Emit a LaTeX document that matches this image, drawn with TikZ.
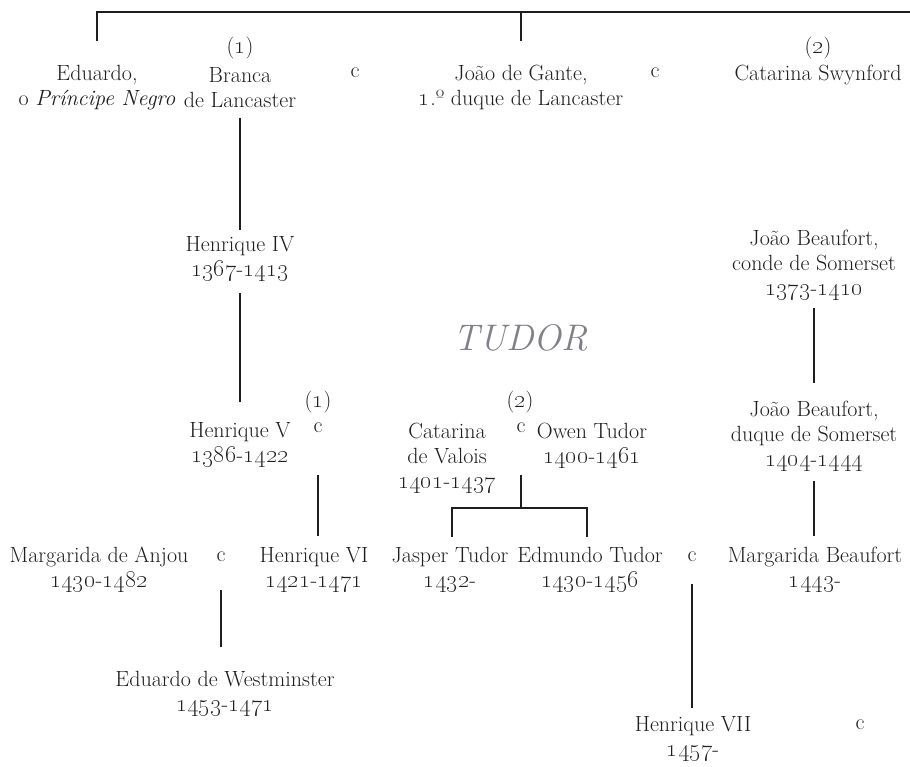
\documentclass[tikz,border=0pt]{standalone}
\usepackage{tikz}
\usetikzlibrary{positioning}

\definecolor{ink}{RGB}{30,30,30}
\definecolor{tudorgray}{RGB}{128,128,136}
\newcommand{\os}[1]{{\fontsize{25}{25}\selectfont\oldstylenums{#1}}}
\newcommand{\yrs}[2]{\os{#1}-\os{#2}}
\newcommand{\nth}[1]{(\os{#1})}

\begin{document}
\begin{tikzpicture}[
  x=1pt, y=-1pt,
  font=\fontsize{22}{25}\selectfont,
  person/.style={align=center, inner sep=4pt, text=ink},
  wed/.style={inner sep=2pt, text=ink},
  link/.style={draw=ink, line width=1.1pt},
]
  \useasboundingbox (0,0) rectangle (910,767);

  % Row 1: Eduardo III's sons and wives
  \node[person] (eduardo) at (97,87.5) {Eduardo,\\o \textit{Príncipe Negro}};
  \node[person] (branca) at (240,87.5) {Branca\\de Lancaster};
  \node[wed] (n1) at (240,48) {\nth{1}};
  \node[wed] (m1) at (355,73) {c};
  \node[person] (gaunt) at (521,87.5) {João de Gante,\\\os{1}.º duque de Lancaster};
  \node[wed] (m2) at (655,73) {c};
  \node[person] (swyn) at (818,75) {Catarina Swynford};
  \node[wed] (n2) at (818,48) {\nth{2}};

  % Row 2: Lancaster and Beaufort
  \node[person] (h4) at (240,258.5) {Henrique IV\\\yrs{1367}{1413}};
  \node[person] (jb1) at (814,265) {João Beaufort,\\conde de Somerset\\\yrs{1373}{1410}};

  \node[font=\fontsize{37}{40}\selectfont\itshape, text=tudorgray] (tudor) at (521,338) {TUDOR};

  % Row 3
  \node[person] (h5) at (240,444.5) {Henrique V\\\yrs{1386}{1422}};
  \node[wed] (n3) at (318,402) {\nth{1}};
  \node[wed] (m3) at (318,428) {c};
  \node[person] (catv) at (447,458) {Catarina\\de Valois\\\yrs{1401}{1437}};
  \node[wed] (n4) at (520,402) {\nth{2}};
  \node[wed] (m4) at (521,428) {c};
  \node[person] (owen) at (592,445.5) {Owen Tudor\\\yrs{1400}{1461}};
  \node[person] (jb2) at (814,436) {João Beaufort,\\duque de Somerset\\\yrs{1404}{1444}};

  % Row 4
  \node[person] (anjou) at (99,569.5) {Margarida de Anjou\\\yrs{1430}{1482}};
  \node[wed] (m5) at (221,557) {c};
  \node[person] (h6) at (314,569.5) {Henrique VI\\\yrs{1421}{1471}};
  \node[person] (jasper) at (450,569.5) {Jasper Tudor\\\os{1432}-};
  \node[person] (edmundo) at (590,569.5) {Edmundo Tudor\\\yrs{1430}{1456}};
  \node[wed] (m6) at (692,557) {c};
  \node[person] (margb) at (815,569.5) {Margarida Beaufort\\\os{1443}-};

  % Row 5
  \node[person] (westm) at (225,693.5) {Eduardo de Westminster\\\yrs{1453}{1471}};
  \node[person] (h7) at (693,738.5) {Henrique VII\\\os{1457}-};
  \node[wed] (m7) at (860,725) {c};

  % Connectors
  \coordinate (topbar) at (910,12);
  \coordinate (tudorbar) at (521,508);
  \draw[link] ([yshift=20pt]eduardo.north) |- (topbar);
  \draw[link] ([yshift=20pt]gaunt.north) -- (gaunt.north |- topbar);
  \draw[link, shorten <=6pt, shorten >=2pt] (branca.south) -- (h4.north);
  \draw[link, shorten <=8pt, shorten >=16pt] (h4.south) -- (h5.north);
  \draw[link, shorten <=40pt, shorten >=7pt] (m3.south) -- (m3.south |- h6.north);
  \draw[link, shorten <=40pt] (m4.south) -- (tudorbar);
  \draw[link] (tudorbar) -| ([xshift=2pt, yshift=6pt]jasper.north);
  \draw[link] (tudorbar) -| ([xshift=-3pt, yshift=6pt]edmundo.north);
  \draw[link, shorten <=4pt, shorten >=14pt] (jb1.south) -- (jb2.north);
  \draw[link, shorten <=6pt, shorten >=7pt] (jb2.south) -- (jb2.south |- margb.north);
  \draw[link, shorten <=26pt, shorten >=20pt] (m5.south) -- (m5.south |- westm.north);
  \draw[link, shorten <=20pt, shorten >=4pt] (m6.south) -- (m6.south |- h7.north);
\end{tikzpicture}
\end{document}
